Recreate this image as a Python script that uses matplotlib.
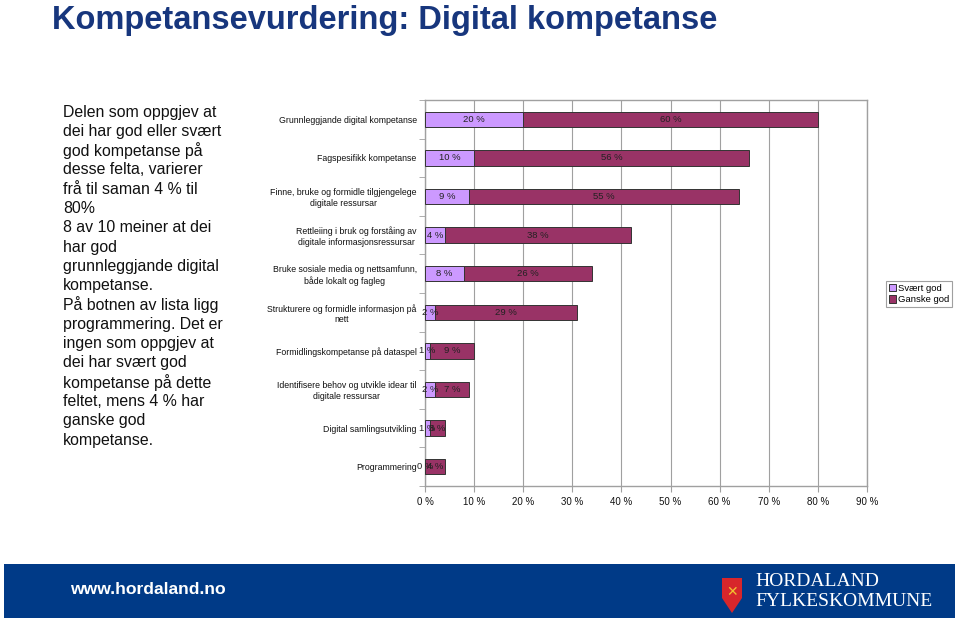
import matplotlib
matplotlib.use("Agg")
import matplotlib.pyplot as plt
import matplotlib.patches as mpatches
import numpy as np

plt.rcParams['font.family'] = ['Liberation Sans', 'DejaVu Sans']

categories = [
    "Grunnleggjande digital kompetanse",
    "Fagspesifikk kompetanse",
    "Finne, bruke og formidle tilgjengelege\ndigitale ressursar",
    "Rettleiing i bruk og forståing av\ndigitale informasjonsressursar",
    "Bruke sosiale media og nettsamfunn,\nbåde lokalt og fagleg",
    "Strukturere og formidle informasjon på\nnett",
    "Formidlingskompetanse på dataspel",
    "Identifisere behov og utvikle idear til\ndigitale ressursar",
    "Digital samlingsutvikling",
    "Programmering",
]
svaert_god = [20, 10, 9, 4, 8, 2, 1, 2, 1, 0]
ganske_god = [60, 56, 55, 38, 26, 29, 9, 7, 3, 4]
series_names = ["Svært god", "Ganske god"]
xticks = [0, 10, 20, 30, 40, 50, 60, 70, 80, 90]
xtick_labels = [f"{v} %" for v in xticks]

title = "Kompetansevurdering: Digital kompetanse"
side_lines = ["Delen som oppgjev at", "dei har god eller svært", "god kompetanse på",
              "desse felta, varierer", "frå til saman 4 % til", "80%",
              "8 av 10 meiner at dei", "har god", "grunnleggjande digital",
              "kompetanse.", "På botnen av lista ligg", "programmering. Det er",
              "ingen som oppgjev at", "dei har svært god", "kompetanse på dette",
              "feltet, mens 4 % har", "ganske god", "kompetanse."]

c_light = "#CC99FF"
c_dark = "#993366"
grey = "#A0A0A0"

fig = plt.figure(figsize=(9.6, 6.2), dpi=100)
W, H = 960, 620

def ax_rect(l, t, r, b):
    return [l / W, 1 - b / H, (r - l) / W, (b - t) / H]

ax = fig.add_axes(ax_rect(425, 100, 867, 486))
y = np.arange(len(categories))
h = 0.40
b1 = ax.barh(y, svaert_god, height=h, color=c_light, edgecolor="#333333", linewidth=0.7, zorder=3)
b2 = ax.barh(y, ganske_god, left=svaert_god, height=h, color=c_dark, edgecolor="#333333", linewidth=0.7, zorder=3)
ax.bar_label(b1, labels=[f"{v} %" for v in svaert_god], label_type="center", fontsize=6.8, color="#222222", zorder=4)
ax.bar_label(b2, labels=[f"{v} %" for v in ganske_god], label_type="center", fontsize=6.8, color="#222222", zorder=4)

ax.set_ylim(len(categories) - 0.5, -0.5)
ax.set_xlim(0, 90)
ax.set_xticks(xticks)
ax.set_xticklabels(xtick_labels, fontsize=7, color="#111111")
ax.set_yticks(y)
ax.set_yticklabels(categories, fontsize=6.3, color="#111111", multialignment="center")
ax.set_yticks(np.arange(len(categories) + 1) - 0.5, minor=True)
ax.tick_params(axis="y", which="major", length=0, pad=6)
ax.tick_params(axis="y", which="minor", length=4, color=grey, direction="out")
ax.tick_params(axis="x", length=4, color=grey, direction="out", pad=4)
ax.grid(axis="x", color=grey, linewidth=0.8, zorder=0)
for s in ax.spines.values():
    s.set_color(grey)
    s.set_linewidth(1.0)

handles = [mpatches.Patch(facecolor=c_light, edgecolor="#333333", linewidth=0.7),
           mpatches.Patch(facecolor=c_dark, edgecolor="#333333", linewidth=0.7)]
leg = fig.legend(handles, series_names, loc="upper left",
                 bbox_to_anchor=(886 / W, 1 - 281 / H), fontsize=6.8,
                 frameon=True, fancybox=False, edgecolor="#888888",
                 handlelength=0.8, handleheight=0.8, handletextpad=0.2,
                 borderpad=0.3, labelspacing=0.25, borderaxespad=0)
leg.get_frame().set_linewidth(0.8)

fig.text(52 / W, 1 - 20 / H, title, fontsize=23.5, fontweight="bold", color="#17367D",
         ha="left", va="center")

for i, line in enumerate(side_lines):
    fig.text(63 / W, 1 - (112 + i * 19.3) / H, line, fontsize=11.4, color="#111111",
             ha="left", va="center")

# footer band
band = mpatches.Rectangle((4 / W, 1 - 618 / H), 951 / W, 54 / H, transform=fig.transFigure,
                          facecolor="#003A87", edgecolor="none")
fig.add_artist(band)
fig.text(70 / W, 1 - 590 / H, "www.hordaland.no", fontsize=12.6, fontweight="bold",
         color="white", ha="left", va="center")
shield = mpatches.Polygon([(722 / W, 1 - 578 / H), (742 / W, 1 - 578 / H), (742 / W, 1 - 598 / H),
                           (732 / W, 1 - 613 / H), (722 / W, 1 - 598 / H)],
                          closed=True, transform=fig.transFigure, facecolor="#D7262B", edgecolor="none")
fig.add_artist(shield)
fig.text(732 / W, 1 - 592 / H, "✕", fontsize=10, color="#F2C230", ha="center", va="center",
         family=["DejaVu Sans"])
fig.text(755 / W, 1 - 581 / H, "HORDALAND", fontsize=14, color="white", ha="left", va="center",
         family=["Liberation Serif", "DejaVu Serif"])
fig.text(755 / W, 1 - 601 / H, "FYLKESKOMMUNE", fontsize=14, color="white", ha="left", va="center",
         family=["Liberation Serif", "DejaVu Serif"])

fig.savefig("out.png", dpi=100)
